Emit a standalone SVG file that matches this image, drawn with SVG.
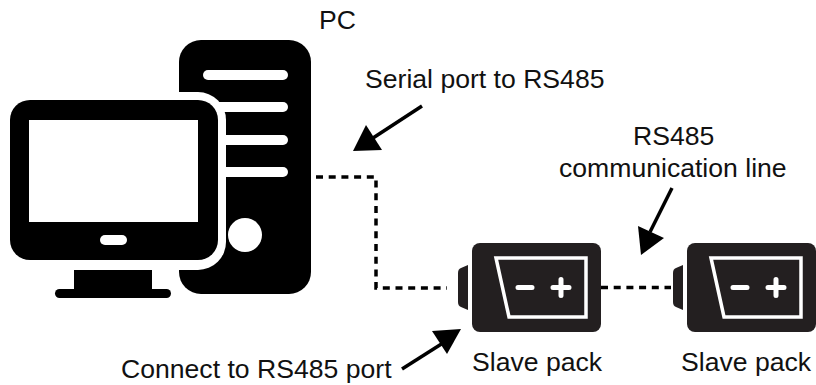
<svg xmlns="http://www.w3.org/2000/svg" width="816" height="385" viewBox="0 0 816 385">
<style>
text{font-family:"Liberation Sans",Arial,sans-serif;font-size:26.6px;fill:#111}
.dash{fill:none;stroke:#000;stroke-width:3.500;stroke-dasharray:7 5.7}
.ln{stroke:#000;stroke-width:3.5;fill:none}
.w{fill:#fff}
.body{fill:#231f20}
</style>
<defs>
<g id="pack">
<path class="body" d="M480 243H593a8 8 0 0 1 8 8V324a8 8 0 0 1-8 8H480a8 8 0 0 1-8-8V251a8 8 0 0 1 8-8Z"/>
<path class="body" d="M468 265V310L461 307Q458 306 458 302V273Q458 269 461 268Z"/>
<path d="M496 258H586V317H509Z" fill="none" stroke="#fff" stroke-width="3.5"/>
<path d="M518 287.500H532M553 287.500H569M561 279.500V295.500" fill="none" stroke="#fff" stroke-width="5" stroke-linecap="round"/>
</g>
</defs>
<rect width="816" height="385" fill="#fff"/>
<g id="pc">
<rect x="179" y="40" width="132" height="254" rx="22" fill="#000"/>
<rect class="w" x="203" y="70" width="85" height="10" rx="5"/>
<rect class="w" x="203" y="102" width="85" height="10" rx="5"/>
<rect class="w" x="203" y="135" width="85" height="10" rx="5"/>
<rect class="w" x="203" y="167" width="85" height="10" rx="5"/>
<circle class="w" cx="245" cy="235" r="17"/>
<rect class="w" x="-20" y="92" width="246" height="178" rx="28"/>
<rect x="10" y="100" width="208" height="160" rx="20" fill="#000"/>
<rect class="w" x="29" y="120" width="169" height="102"/>
<rect class="w" x="100" y="235" width="27" height="10" rx="5"/>
<rect x="74" y="270" width="78" height="22" fill="#000"/>
<rect x="55" y="289" width="116" height="9" rx="4.500" fill="#000"/>
<text x="319" y="29">PC</text>
</g>
<g id="slave1"><use href="#pack"/><text x="472" y="371">Slave pack</text></g>
<g id="slave2"><use href="#pack" x="215"/><text x="681" y="371">Slave pack</text></g>
<g id="connectors">
<path class="dash" d="M316 177H376V288H447"/>
<path class="dash" d="M601 287.500H671"/>
<path class="ln" d="M422 106L373 138"/>
<path d="M353 151L366 125L382 150Z"/>
<path class="ln" d="M672 188L650 232"/>
<path d="M638 226L664 238L641 255Z"/>
<path class="ln" d="M402 369L443 343"/>
<path d="M461 329L447 354L432 331Z"/>
</g>
<g id="labels">
<text x="365" y="88">Serial port to RS485</text>
<text x="633" y="145">RS485</text>
<text x="559" y="177">communication line</text>
<text x="121" y="378">Connect to RS485 port</text>
</g>
</svg>
